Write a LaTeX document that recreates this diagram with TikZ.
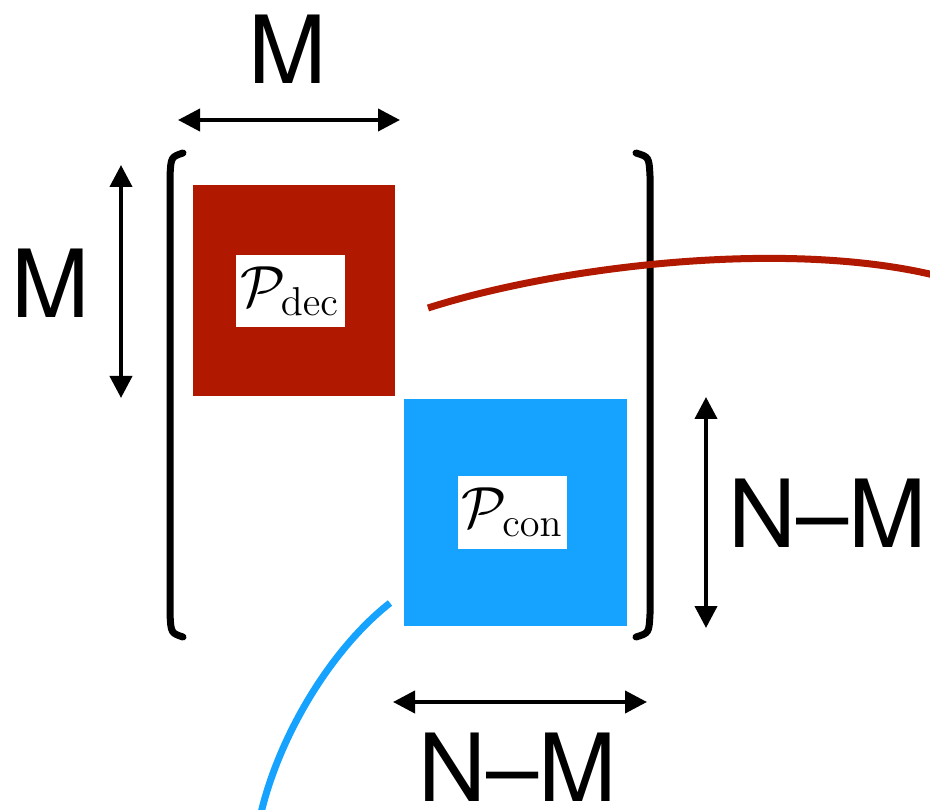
\documentclass[tikz,border=0pt]{standalone}
\usepackage[no-math]{fontspec}
\newfontfamily\labfont{TeX Gyre Heros}
\usetikzlibrary{arrows.meta}
\definecolor{decred}{RGB}{176,24,0}
\definecolor{conblue}{RGB}{22,162,255}
\newcommand{\bigmath}[1]{\scalebox{2.8}{\fontsize{20}{24}\selectfont$#1$}}
\tikzset{
  tag/.style={fill=white, inner sep=0pt, minimum width=109pt, minimum height=72pt},
  dimarrow/.style={line width=4pt, {Triangle[length=22pt,width=22pt]}-{Triangle[length=22pt,width=22pt]}},
  dimlabel/.style={font=\labfont\fontsize{94}{96}\selectfont, inner sep=0pt},
  bracket/.style={line width=7pt, line cap=round, line join=round},
  link/.style={line width=7pt}
}
\begin{document}
\begin{tikzpicture}[x=1pt, y=-1pt]
\useasboundingbox (0,0) rectangle (930,810);
\clip (0,0) rectangle (930,810);

% the two diagonal blocks
\fill[decred] (193,185) rectangle (395,396);
\fill[conblue] (404,399) rectangle (627,626);
\node[tag] (dec) at (290,291.5) {\bigmath{\mathcal{P}_{\mathrm{dec}}}};
\node[tag] (con) at (512.5,512.5) {\bigmath{\mathcal{P}_{\mathrm{con}}}};

% matrix brackets
\draw[bracket] (183,153) .. controls (171,157) .. (170,176) -- (170,614) .. controls (171,633) .. (183,637);
\draw[bracket] (636,153) .. controls (649,157) .. (650,176) -- (650,614) .. controls (649,633) .. (636,637);

% curves leaving the blocks
\coordinate (redstart) at (428,308);
\coordinate (redend) at (942,277);
\draw[link, decred] (redstart) .. controls (560,266) and (790,238) .. (redend);
\coordinate (bluestart) at (390,603);
\coordinate (blueend) at (259,822);
\draw[link, conblue] (bluestart) .. controls (330,650) and (276,740) .. (blueend);

% dimension arrows
\coordinate (t1) at (178,120); \coordinate (t2) at (400,120);
\draw[dimarrow] (t1) -- (t2);
\node[dimlabel] (tM) at (288,49) {M};

\coordinate (l1) at (121,165); \coordinate (l2) at (121,398);
\draw[dimarrow] (l1) -- (l2);
\node[dimlabel] (lM) at (51,283.5) {M};

\coordinate (r1) at (706,397); \coordinate (r2) at (706,628);
\draw[dimarrow] (r1) -- (r2);
\node[dimlabel] (rNM) at (828,513.5) {N–M};

\coordinate (b1) at (393,702); \coordinate (b2) at (647,702);
\draw[dimarrow] (b1) -- (b2);
\node[dimlabel] (bNM) at (518,767) {N–M};
\end{tikzpicture}
\end{document}
